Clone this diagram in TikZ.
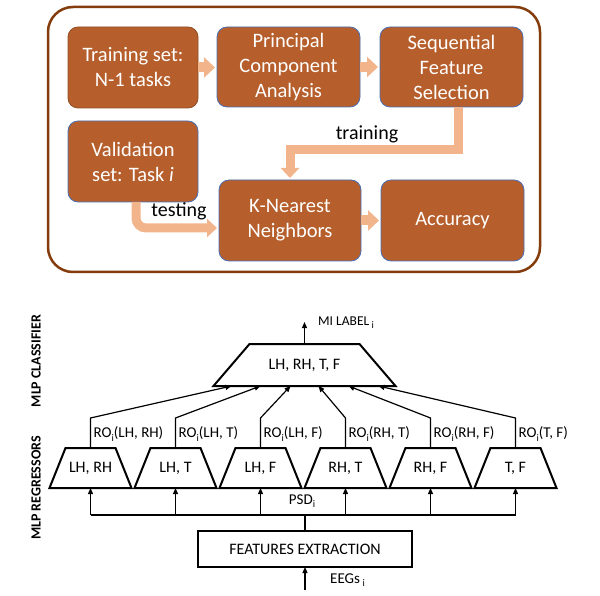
\documentclass[tikz,border=0pt]{standalone}
\usepackage{fontspec}
\setmainfont{Carlito}
\usetikzlibrary{arrows.meta,calc}
\definecolor{boxfill}{HTML}{B65F2C}
\definecolor{peach}{HTML}{F2B48A}
\definecolor{outerc}{HTML}{843C0C}
\definecolor{boxline}{HTML}{4A6FB5}
\newcommand\sbi{\raisebox{-0.5ex}{\fontsize{10}{10}\selectfont i}}
\newcommand\trapez[2]{\draw[trapline] (#1.south west) -- ([xshift=#2]#1.north west) -- ([xshift=-#2]#1.north east) -- (#1.south east) -- cycle;}
\begin{document}
\begin{tikzpicture}[x=1pt,y=-1pt,
  topbox/.style={draw=boxline, line width=0.8pt, fill=boxfill, rounded corners=10pt, text=white,
    align=center, font=\fontsize{20.5}{25}\selectfont, inner sep=0pt, outer sep=0pt, minimum height=81pt},
  barrow/.style={draw=peach, line width=10pt, -{Triangle[length=11pt 0 0,width=20pt 0 0]}, shorten >=2pt},
  bentarrow/.style={draw=peach, line width=9pt, -{Triangle[length=10pt 0 0,width=18pt 0 0]}, line join=miter},
  lbl/.style={font=\fontsize{20}{24}\selectfont, inner sep=0pt},
  trapline/.style={draw, line width=2pt, line join=miter},
  regbox/.style={minimum width=82pt, minimum height=40pt, inner sep=0pt, outer sep=0pt, font=\fontsize{16}{19}\selectfont},
  conn/.style={draw, line width=1.2pt, -{Triangle[length=6pt 0 0,width=5pt 0 0]}},
  plain/.style={draw, line width=1.2pt},
  rolab/.style={anchor=west, inner sep=0pt, font=\fontsize{15}{18}\selectfont},
  small/.style={inner sep=0pt, font=\fontsize{15}{18}\selectfont},
  side/.style={rotate=90, inner sep=0pt, font=\bfseries\fontsize{14}{16}\selectfont}
]
\useasboundingbox (0,0) rectangle (600,596);

% ---------- top panel ----------
\node[draw=outerc, line width=2.5pt, rounded corners=25pt, minimum width=492pt, minimum height=265pt, inner sep=0pt] (panel) at (294,139.5) {};

\node[topbox, draw=boxfill!80!black, minimum width=130pt] (train) at (133,67.5) {Training set:\\N-1 tasks};
\node[topbox, minimum width=143pt, minimum height=80pt] (pca) at (288.5,67) {Principal\\Component\\Analysis};
\node[topbox, minimum width=143pt, minimum height=80pt] (sfs) at (451.5,67) {Sequential\\Feature\\Selection};
\node[topbox, minimum width=130pt] (val) at (133,161.5) {Validation\\set: Task \textit{i}};
\node[topbox, minimum width=142pt] (knn) at (290,220.5) {K-Nearest\\Neighbors};
\node[topbox, minimum width=143pt] (acc) at (452.5,220.5) {Accuracy};

\draw[barrow] (train.east) -- (train.east -| pca.west);
\draw[barrow] (pca.east) -- (pca.east -| sfs.west);
\draw[barrow] (knn.east) -- (knn.east -| acc.west);

\coordinate (tk) at (290,149.5);
\draw[bentarrow, shorten >=2pt] ([xshift=6.5pt]sfs.south) |- (tk) -- (knn.north);
\node[lbl] (trainlab) at (367,134) {training};

\coordinate (tv) at (136,228);
\coordinate (te) at (217,228);
\draw[bentarrow, rounded corners=10pt] ([xshift=3pt]val.south) |- (te);
\node[lbl] (testlab) at (179,211) {testing};

% ---------- bottom panel ----------
\node[side] (mlpc) at (36,361) {MLP CLASSIFIER};
\node[side] (mlpr) at (36,488) {MLP REGRESSORS};

\node[regbox, minimum width=182pt, minimum height=42pt] (cls) at (304.5,365) {LH, RH, T, F};
\trapez{cls}{36pt}

\coordinate (mi) at (304.5,322);
\draw[conn] (cls.north) -- (mi);
\node[anchor=west, inner sep=0pt, font=\fontsize{13.5}{16}\selectfont] (milab) at (318,323) {MI LABEL\,\sbi};

\node[regbox] (r1) at (90.5,468) {LH, RH};
\node[regbox] (r2) at (175.5,468) {LH, T};
\node[regbox] (r3) at (260.5,468) {LH, F};
\node[regbox] (r4) at (345.5,468) {RH, T};
\node[regbox] (r5) at (430.5,468) {RH, F};
\node[regbox] (r6) at (515.5,468) {T, F};
\foreach \r in {r1,r2,r3,r4,r5,r6} {\trapez{\r}{16pt}}

\draw[conn] (r1.north) -- ++(0,-30) -- ($(cls.south)+(-73,0)$);
\draw[conn] (r2.north) -- ++(0,-30) -- ($(cls.south)+(-44,0)$);
\draw[conn] (r3.north) -- ++(0,-30) -- ($(cls.south)+(-14,0)$);
\draw[conn] (r4.north) -- ++(0,-30) -- ($(cls.south)+(14,0)$);
\draw[conn] (r5.north) -- ++(0,-30) -- ($(cls.south)+(44,0)$);
\draw[conn] (r6.north) -- ++(0,-30) -- ($(cls.south)+(74,0)$);

\node[rolab] (ro1) at (93.5,434) {RO\sbi(LH, RH)};
\node[rolab] (ro2) at (178.5,434) {RO\sbi(LH, T)};
\node[rolab] (ro3) at (263.5,434) {RO\sbi(LH, F)};
\node[rolab] (ro4) at (348.5,434) {RO\sbi(RH, T)};
\node[rolab] (ro5) at (433.5,434) {RO\sbi(RH, F)};
\node[rolab] (ro6) at (518.5,434) {RO\sbi(T, F)};

\node[draw, line width=2pt, minimum width=214pt, minimum height=36pt, inner sep=0pt, outer sep=0pt,
  font=\fontsize{16}{19}\selectfont] (feat) at (305,549) {FEATURES EXTRACTION};

\coordinate (bus) at (305,515);
\draw[plain] (feat.north) -- (bus);
\draw[plain] (r1.south |- bus) -- (r6.south |- bus);
\foreach \r in {r1,r2,r3,r4,r5,r6} {\draw[conn] (\r.south |- bus) -- (\r.south);}
\node[small] (psd) at (302,501) {PSD\sbi};

\coordinate (eeg) at (305,590);
\draw[conn] (eeg) -- (feat.south);
\node[small, anchor=west] (eeglab) at (330,580) {EEGs\,\sbi};
\end{tikzpicture}
\end{document}
